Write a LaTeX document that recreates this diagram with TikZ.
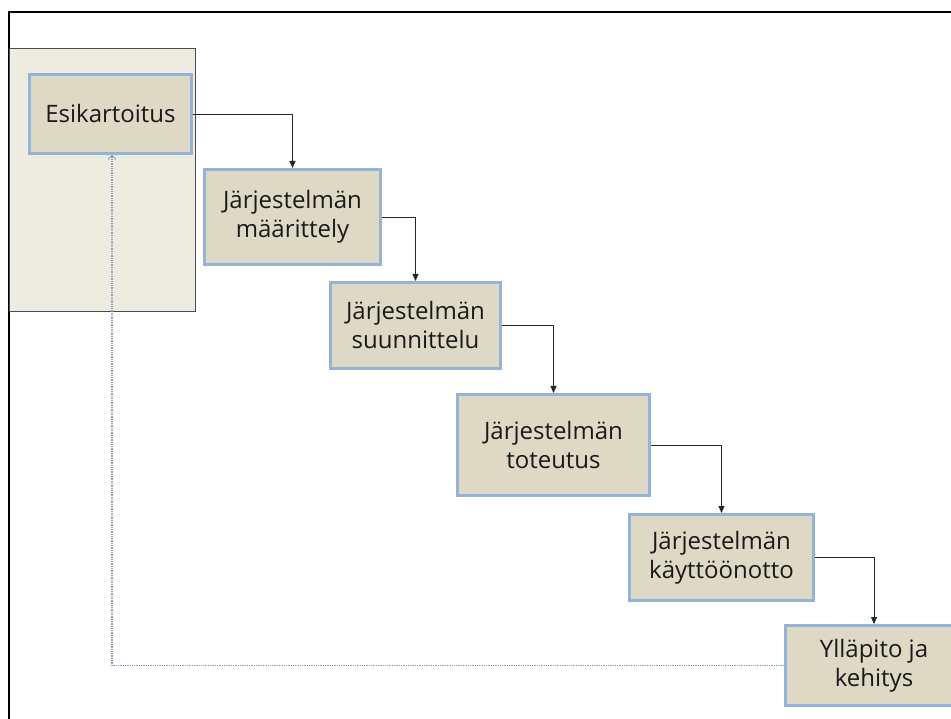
\documentclass[tikz,border=0pt]{standalone}
\usepackage{fontspec}
\setmainfont{Open Sans}
\usetikzlibrary{arrows.meta}
\definecolor{panelfill}{HTML}{EEECE1}
\definecolor{boxfill}{HTML}{DDD9C4}
\definecolor{boxline}{HTML}{95B3D7}
\definecolor{txt}{HTML}{1A1A1A}
\definecolor{backline}{HTML}{8A9FBC}
\tikzset{
  phase/.style={draw=boxline, line width=3pt, fill=boxfill, align=center,
    text=txt, font=\fontsize{24}{29}\selectfont, inner sep=0pt},
  flow/.style={draw=black!85, line width=0.9pt, -{Triangle[length=7pt,width=6pt]}},
  feedback/.style={draw=backline, line width=1.2pt, dash pattern=on 1.3pt off 1pt,
    -{Straight Barb[length=4pt,width=8pt,line width=0.8pt]}}
}
\begin{document}
\begin{tikzpicture}[x=1pt,y=-1pt]
  \useasboundingbox[fill=white] (0,0) rectangle (951,719);
  % frame
  \draw[line width=2.2pt] (9,719) -- (9,12) -- (951,12);
  % shaded panel behind the first phase
  \draw[fill=panelfill, draw=black!70, line width=0.9pt] (9,48) rectangle (195,311);
  % phases
  \node[phase, minimum width=162, minimum height=79] (a) at (110.5,114) {Esikartoitus};
  \node[phase, minimum width=176, minimum height=95] (b) at (292.5,217) {Järjestelmän\\määrittely};
  \node[phase, minimum width=170, minimum height=86] (c) at (415.5,325.5) {Järjestelmän\\suunnittelu};
  \node[phase, minimum width=192, minimum height=101] (d) at (553.5,445) {Järjestelmän\\toteutus};
  \node[phase, minimum width=184, minimum height=86] (e) at (721.5,557.5) {Järjestelmän\\käyttöönotto};
  \node[phase, minimum width=177, minimum height=80] (f) at (874,665.5) {Ylläpito ja\\kehitys};
  % flow between phases
  \draw[flow] (a.east) -| (b.north);
  \draw[flow] (b.east) -| (c.north);
  \draw[flow] (c.east) -| (d.north);
  \draw[flow] (d.east) -| (e.north);
  \draw[flow] (e.east) -| (f.north);
  % return path
  \draw[feedback] (f.west) -| ([xshift=1.5pt]a.south);
\end{tikzpicture}
\end{document}
